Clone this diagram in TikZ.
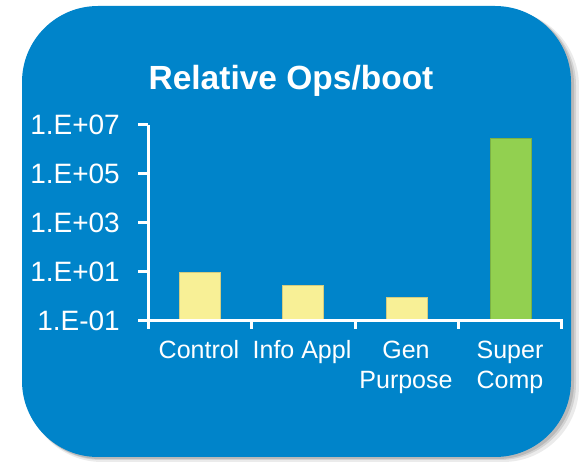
\documentclass[tikz,border=0pt]{standalone}
\usepackage{fontspec}
\setmainfont{Liberation Sans}

\definecolor{panelblue}{RGB}{0,132,202}
\definecolor{baryellow}{RGB}{248,240,150}
\definecolor{bargreen}{RGB}{146,208,80}

\begin{document}
\begin{tikzpicture}[x=1pt,y=-1pt,
  panel/.style={fill=panelblue,rounded corners=76pt},
  axis line/.style={draw=white,line width=3pt},
  bar/.style={draw=#1!85!black,line width=0.6pt,fill=#1},
  title node/.style={anchor=base,text=white,inner sep=0pt,
    font=\fontsize{33.5}{33.5}\selectfont\bfseries},
  tick label/.style={anchor=base east,text=white,inner sep=0pt,
    font=\fontsize{28}{28}\selectfont},
  cat label/.style={anchor=base,text=white,inner sep=0pt,
    font=\fontsize{25}{25}\selectfont}]

  \useasboundingbox (0,0) rectangle (579,462);

  % panel with its shadow
  \fill[black,opacity=0.08,rounded corners=76pt] (26,10) rectangle (579,462);
  \fill[black,opacity=0.10,rounded corners=76pt] (25,9) rectangle (576,460);
  \fill[black,opacity=0.12,rounded corners=76pt] (24,8) rectangle (574,459);
  \path[panel] (22,6) rectangle (571,457);

  \node[title node] (title) at (291,90) {Relative Ops/boot};

  % bars
  \path[bar=baryellow] (179,321) rectangle (220,272);
  \path[bar=baryellow] (282,321) rectangle (323,285);
  \path[bar=baryellow] (386,321) rectangle (427,297);
  \path[bar=bargreen] (490,321) rectangle (531,138);

  % axes
  \draw[axis line] (148,125) -- (148,329);
  \draw[axis line] (148,321) -- (561,321) -- (561,329);
  \foreach \yy in {125,174,223,272,321}
    \draw[axis line] (138,\yy) -- (148,\yy);
  \foreach \xx in {251,355,458}
    \draw[axis line] (\xx,321) -- (\xx,329);

  \node[tick label] (e7) at (120,135) {1.E+07};
  \node[tick label] (e5) at (120,184) {1.E+05};
  \node[tick label] (e3) at (120,233) {1.E+03};
  \node[tick label] (e1) at (120,282) {1.E+01};
  \node[tick label] (em1) at (120,331) {1.E-01};

  \node[cat label] (control) at (199,359) {Control};
  \node[cat label] (info) at (302,359) {Info Appl};
  \node[cat label] (gen) at (406,359) {Gen};
  \node[cat label] (purpose) at (406,389) {Purpose};
  \node[cat label] (super) at (510,359) {Super};
  \node[cat label] (comp) at (510,389) {Comp};

\end{tikzpicture}
\end{document}
